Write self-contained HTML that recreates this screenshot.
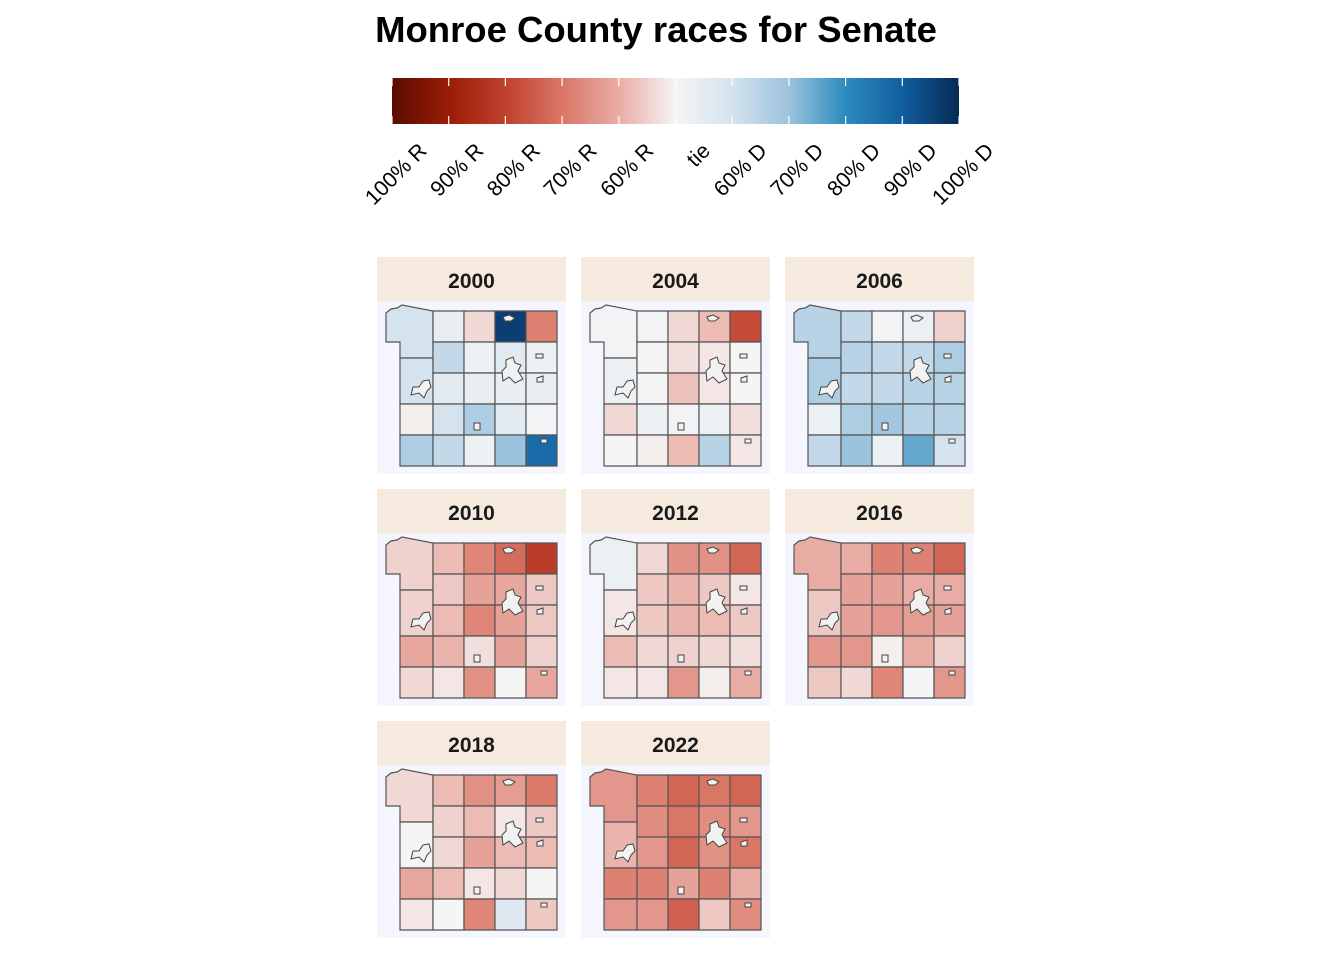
<!DOCTYPE html>
<html><head><meta charset="utf-8"><style>
body{margin:0;background:#fff;}
svg{display:block;font-family:"Liberation Sans",sans-serif;}
</style></head><body>
<svg id="chart" width="1344" height="960">
<text x="656" y="42" text-anchor="middle" font-size="36.5" font-weight="bold" fill="#000">Monroe County races for Senate</text>
<defs><linearGradient id="grad" x1="0" x2="1" y1="0" y2="0"></linearGradient></defs>
<g id="legend"></g>
<g id="panels"></g>
</svg>
<script>
const years = ["2000","2004","2006","2010","2012","2016","2018","2022"];
const tickValues = [0,10,20,30,40,50,60,70,80,90,100];
const tickLabels = ["100% R","90% R","80% R","70% R","60% R","tie","60% D","70% D","80% D","90% D","100% D"];
// D share (%) per township, order: col0 top, col0 mid, col0 r3, col0 r4, then cols 1-4 rows 0-4
const v2000 = [60,60,49,67, 54,63,56,60,63, 46,52,54,67,52, 96,56,54,56,70, 32,52,54,51,87];
const v2004 = [51,52,46,50, 51,50,50,52,49, 46,47,43,51,42, 42,48,48,53,65, 22,50,50,47,48];
const v2006 = [65,67,53,63, 63,65,63,67,70, 51,63,63,69,53, 53,63,65,65,75, 45,67,65,65,60];
const v2010 = [45,45,39,46, 42,44,42,41,48, 33,38,33,47,35, 28,39,38,38,50, 19,44,44,45,39];
const v2012 = [53,48,42,48, 46,44,44,46,48, 35,41,41,45,36, 35,44,42,46,49, 27,48,44,47,40];
const v2016 = [40,44,36,44, 40,38,38,36,46, 32,38,36,49,33, 32,40,37,40,50, 27,40,38,45,36];
const v2018 = [46,50,39,48, 42,45,46,42,50, 35,42,38,48,33, 37,48,42,46,57, 31,44,42,50,44];
const v2022 = [36,41,32,36, 32,34,36,32,36, 27,30,27,38,26, 30,34,35,32,44, 27,36,30,40,34];
const series = [v2000,v2004,v2006,v2010,v2012,v2016,v2018,v2022];

const stopV = [0,10,20,30,40,50,60,70,80,90,100];
const stopC = ["#5a0c00","#9a1c05","#c0402e","#da7666","#e9aca4","#f5f5f5","#d4e3ee","#9cc3dd","#2b8cbe","#125ea0","#062a55"];
function hex(c){return [1,3,5].map(i=>parseInt(c.substr(i,2),16));}
function color(v){
  v=Math.max(0,Math.min(100,v));
  let i=Math.min(9,Math.floor(v/10));
  const t=(v-stopV[i])/10, a=hex(stopC[i]), b=hex(stopC[i+1]);
  return "rgb("+a.map((x,k)=>Math.round(x+(b[k]-x)*t)).join(",")+")";
}
const NS="http://www.w3.org/2000/svg";
function mk(tag,attrs,parent){const e=document.createElementNS(NS,tag);for(const k in attrs)e.setAttribute(k,attrs[k]);parent.appendChild(e);return e;}

// legend
const L0=392,L1=959;
const lx=v=>L0+(L1-L0)*v/100;
const grad=document.getElementById("grad");
stopV.forEach((v,i)=>mk("stop",{offset:v+"%","stop-color":stopC[i]},grad));
const leg=document.getElementById("legend");
const bar=mk("rect",{x:L0,y:78,width:L1-L0,height:46,fill:"url(#grad)"},leg);


tickValues.forEach((v,i)=>{
  const x=lx(v);
  mk("line",{x1:x,x2:x,y1:78,y2:86,stroke:"#fff","stroke-width":1.2},leg);
  mk("line",{x1:x,x2:x,y1:116,y2:124,stroke:"#fff","stroke-width":1.2},leg);
  const ax=x+36, ay=152;
  const t=mk("text",{x:ax,y:ay,"text-anchor":"end","font-size":21.5,fill:"#000",transform:"rotate(-45 "+ax+" "+ay+")"},leg);
  t.textContent=tickLabels[i];
  
  
});

// map geometry (relative to panel body top-left)
const X=[9,23,56,87,118,149,180], Y=[10,41,72,103,134,165];
function cellPolys(){
  const p=[];
  p.push([[9,12],[14,8],[20,7],[25,4],[56,10],[56,57],[23,57],[23,41],[9,41]]);
  p.push([[23,57],[56,57],[56,103],[23,103]]);
  p.push([[23,103],[56,103],[56,134],[23,134]]);
  p.push([[23,134],[56,134],[56,165],[23,165]]);
  for(let c=2;c<6;c++)for(let r=0;r<5;r++)p.push([[X[c],Y[r]],[X[c+1],Y[r]],[X[c+1],Y[r+1]],[X[c],Y[r+1]]]);
  return p;
}
const polys=cellPolys();
const cities=[[[129,59],[136,56],[138,62],[144,64],[141,70],[146,78],[138,82],[132,76],[126,80],[125,70],[129,66]],
 [[46,80],[52,79],[54,86],[50,90],[47,97],[42,92],[34,94],[36,86],[42,86]],
 [[126,16],[132,14],[138,17],[134,20],[128,20]],
 [[159,53],[166,53],[166,57],[159,57]],[[160,77],[166,75],[166,81],[160,81]],
 [[97,122],[103,122],[103,129],[97,129]],[[164,138],[170,138],[170,142],[164,142]]];

const PX=[377,581,785], PY=[257,489,721];
const pg=document.getElementById("panels");
years.forEach((yr,i)=>{
  const px=PX[i%3], py=PY[Math.floor(i/3)];
  const g=mk("g",{transform:"translate("+px+","+py+")"},pg);
  
  
  mk("rect",{x:0,y:0,width:189,height:44,fill:"#f6eadf"},g);
  const st=mk("text",{x:94.5,y:31,"text-anchor":"middle","font-size":21,"font-weight":"bold",fill:"#1a1a1a"},g);
  st.textContent=yr;
  
  
  mk("rect",{x:0,y:44,width:189,height:173,fill:"#f5f5fd"},g);
  const body=mk("g",{transform:"translate(0,44)"},g);
  series[i].forEach((v,k)=>{
    const pl=mk("polygon",{points:polys[k].map(p=>p.join(",")).join(" "),fill:color(v),stroke:"#555","stroke-width":1.2},body);
    
    
  });
  cities.forEach(c=>{
    const cp=mk("polygon",{points:c.map(p=>p.join(",")).join(" "),fill:"#f2f2f2",stroke:"#444","stroke-width":1},body);
    
    
  });
});
</script>
</body></html>
